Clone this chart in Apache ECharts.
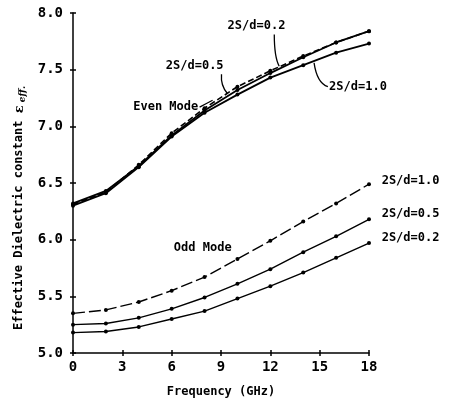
<!DOCTYPE html>
<html>
<head>
<meta charset="utf-8">
<script src="https://cdn.jsdelivr.net/npm/echarts@6/dist/echarts.min.js"></script>
<style>
  html, body { margin: 0; padding: 0; background: #fff; }
  #chart { width: 450px; height: 405px; }
</style>
</head>
<body>
<div id="chart"></div>
<script>
// frequency points (GHz)
const freq = [0, 2, 4, 6, 8, 10, 12, 14, 16, 18];
const xTicks = [0, 3, 6, 9, 12, 15, 18];

// even mode
const even02 = [6.31, 6.42, 6.66, 6.94, 7.16, 7.35, 7.49, 7.62, 7.74, 7.84];
const even05 = [6.32, 6.43, 6.65, 6.92, 7.14, 7.32, 7.47, 7.61, 7.74, 7.84];
const even10 = [6.30, 6.41, 6.64, 6.91, 7.12, 7.28, 7.43, 7.54, 7.65, 7.73];

// odd mode
const odd10 = [5.35, 5.38, 5.45, 5.55, 5.67, 5.83, 5.99, 6.16, 6.32, 6.49];
const odd05 = [5.25, 5.26, 5.31, 5.39, 5.49, 5.61, 5.74, 5.89, 6.03, 6.18];
const odd02 = [5.18, 5.19, 5.23, 5.30, 5.37, 5.48, 5.59, 5.71, 5.84, 5.97];

const font = "DejaVu Sans Mono";
const ink = "#000";

const chart = echarts.init(document.getElementById("chart"));

function pairs(ys) {
  return freq.map((f, i) => [f, ys[i]]);
}

function line(name, ys, dash, width) {
  return {
    name: name,
    type: "line",
    data: pairs(ys),
    symbol: "circle",
    symbolSize: 4,
    showSymbol: true,
    itemStyle: { color: ink },
    lineStyle: { color: ink, width: width, type: dash },
    animation: false,
    silent: true,
  };
}

const axisCommon = {
  axisLine: { show: true, lineStyle: { color: ink, width: 1.5 } },
  splitLine: { show: false },
};

chart.setOption({
  backgroundColor: "#fff",
  grid: { left: 73, right: 81, top: 13, bottom: 52 },
  xAxis: [
    {
      ...axisCommon,
      type: "value",
      min: 0,
      max: 18,
      interval: 3,
      axisTick: { show: true, length: 3, lineStyle: { color: ink, width: 1.5 } },
      axisLabel: {
        margin: 7,
        color: ink,
        fontFamily: font,
        fontWeight: "bold",
        fontSize: 14,
        formatter: (v) => (xTicks.includes(v) ? String(v) : ""),
      },
      name: "Frequency (GHz)",
      nameLocation: "middle",
      nameGap: 33,
      nameTextStyle: { color: ink, fontFamily: font, fontWeight: "bold", fontSize: 12 },
    },
    {
      type: "value",
      position: "bottom",
      min: 0,
      max: 18,
      interval: 3,
      axisLine: { show: false },
      axisTick: { show: true, inside: true, length: 3, lineStyle: { color: ink, width: 1.5 } },
      axisLabel: { show: false },
      splitLine: { show: false },
    },
  ],
  yAxis: [
    {
      ...axisCommon,
      type: "value",
      min: 5,
      max: 8,
      interval: 0.5,
      axisTick: { show: true, length: 3, lineStyle: { color: ink, width: 1.5 } },
      axisLabel: {
        margin: 10,
        color: ink,
        fontFamily: font,
        fontWeight: "bold",
        fontSize: 14,
        formatter: (v) => v.toFixed(1),
      },
      name: "Effective Dielectric constant {e|ε}{s| eff.}",
      nameLocation: "middle",
      nameGap: 46,
      nameRotate: 90,
      nameTextStyle: {
        color: ink,
        fontFamily: font,
        fontWeight: "bold",
        fontSize: 12,
        padding: [0, 50, 0, 0],
        rich: {
          e: { fontFamily: "DejaVu Serif", fontSize: 13, color: ink },
          s: { fontFamily: "DejaVu Serif", fontStyle: "italic", fontSize: 9, color: ink, padding: [6, 0, 0, 0] },
        },
      },
    },
    {
      type: "value",
      position: "left",
      min: 5,
      max: 8,
      interval: 0.5,
      axisLine: { show: false },
      axisTick: { show: true, inside: true, length: 3, lineStyle: { color: ink, width: 1.5 } },
      axisLabel: { show: false },
      splitLine: { show: false },
    },
  ],
  series: [
    line("Even 2S/d=0.2", even02, [6, 3], 1.6),
    line("Even 2S/d=0.5", even05, "solid", 1.8),
    line("Even 2S/d=1.0", even10, "solid", 1.8),
    line("Odd 2S/d=1.0", odd10, [12, 4], 1.4),
    line("Odd 2S/d=0.5", odd05, "solid", 1.4),
    line("Odd 2S/d=0.2", odd02, "solid", 1.4),
  ],
});

// annotations, placed in data space
const labels = [
  { text: "2S/d=0.2", at: [11.16, 7.89], align: "center" },
  { text: "2S/d=0.5", at: [7.40, 7.53], align: "center" },
  { text: "2S/d=1.0", at: [17.33, 7.35], align: "center" },
  { text: "Even Mode", at: [5.64, 7.17], align: "center" },
  { text: "Odd Mode", at: [7.89, 5.93], align: "center" },
  { text: "2S/d=1.0", at: [18.77, 6.52], align: "left" },
  { text: "2S/d=0.5", at: [18.77, 6.23], align: "left" },
  { text: "2S/d=0.2", at: [18.77, 6.02], align: "left" },
];

const leaders = [
  { from: [12.24, 7.81], ctrl: [12.24, 7.61], to: [12.54, 7.53] },
  { from: [9.03, 7.46], ctrl: [8.97, 7.36], to: [9.39, 7.29] },
  { from: [14.66, 7.56], ctrl: [14.84, 7.38], to: [15.5, 7.35] },
  { from: [7.70, 7.17], ctrl: [8.1, 7.20], to: [8.49, 7.23] },
];

function px(p) {
  return chart.convertToPixel({ gridIndex: 0 }, p);
}

const graphic = [];
labels.forEach((l) => {
  const p = px(l.at);
  graphic.push({
    type: "text",
    x: p[0],
    y: p[1],
    silent: true,
    style: {
      text: l.text,
      fill: ink,
      font: "bold 12px " + font,
      textAlign: l.align,
      textVerticalAlign: "middle",
    },
  });
});
leaders.forEach((l) => {
  const a = px(l.from), c = px(l.ctrl), b = px(l.to);
  graphic.push({
    type: "bezierCurve",
    silent: true,
    shape: { x1: a[0], y1: a[1], cpx1: c[0], cpy1: c[1], x2: b[0], y2: b[1] },
    style: { stroke: ink, lineWidth: 1.3, fill: null },
  });
});

chart.setOption({ graphic: graphic });
</script>
</body>
</html>
